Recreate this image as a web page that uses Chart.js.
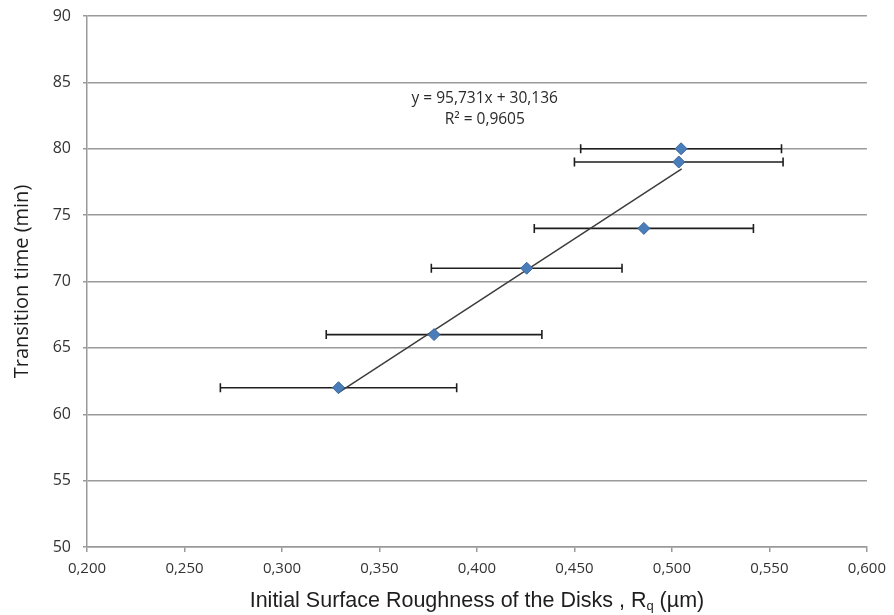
<!DOCTYPE html>
<html>
<head>
<meta charset="utf-8">
<script src="https://cdn.jsdelivr.net/npm/chart.js@4.4.0/dist/chart.umd.min.js"></script>
<style>
  html, body { margin: 0; padding: 0; background: #fff; }
</style>
</head>
<body>
<canvas id="graficScatter" width="894" height="615"></canvas>
<script>
// data
var roughness = [0.329, 0.378, 0.4255, 0.4856, 0.5035, 0.5047];
var transition = [62, 66, 71, 74, 79, 80];
var roughnessErr = [0.0606, 0.0553, 0.0489, 0.0562, 0.0535, 0.0515];
var trendX = [0.329, 0.505];
var trendY = [61.63, 78.48];
var xTickLabels = ['0,200','0,250','0,300','0,350','0,400','0,450','0,500','0,550','0,600'];
var yTickLabels = ['50','55','60','65','70','75','80','85','90'];
var equationLines = ['y = 95,731x + 30,136', 'R\u00B2 = 0,9605'];
var equationAt = [0.404, 83.8];

var points = roughness.map(function(v, i){ return {x: v, y: transition[i]}; });
var trend = trendX.map(function(v, i){ return {x: v, y: trendY[i]}; });

var extras = {
  id: 'extras',
  beforeDatasetsDraw: function(chart){
    var ctx = chart.ctx, sx = chart.scales.x, sy = chart.scales.y;
    ctx.save();
    ctx.strokeStyle = '#1e1e1e';
    ctx.lineWidth = 1.6;
    for (var i = 0; i < roughness.length; i++) {
      var x0 = sx.getPixelForValue(roughness[i] - roughnessErr[i]);
      var x1 = sx.getPixelForValue(roughness[i] + roughnessErr[i]);
      var py = sy.getPixelForValue(transition[i]);
      ctx.beginPath();
      ctx.moveTo(x0, py); ctx.lineTo(x1, py);
      ctx.moveTo(x0, py - 4.5); ctx.lineTo(x0, py + 4.5);
      ctx.moveTo(x1, py - 4.5); ctx.lineTo(x1, py + 4.5);
      ctx.stroke();
    }
    ctx.restore();
  },
  afterDraw: function(chart){
    var ctx = chart.ctx, sx = chart.scales.x, sy = chart.scales.y, a = chart.chartArea;
    ctx.save();
    // trend equation
    ctx.fillStyle = '#2a2a2a';
    ctx.font = '15.5px "Open Sans"';
    ctx.textAlign = 'center';
    ctx.textBaseline = 'middle';
    var ex = sx.getPixelForValue(equationAt[0]), ey = sy.getPixelForValue(equationAt[1]);
    ctx.fillText(equationLines[0], ex, ey);
    ctx.fillText(equationLines[1], ex, ey + 21);

    // y title
    ctx.save();
    ctx.translate(22, (a.top + a.bottom) / 2);
    ctx.rotate(-Math.PI / 2);
    ctx.font = '20px "Open Sans"';
    ctx.fillStyle = '#1e1e1e';
    ctx.fillText('Transition time (min)', 0, 0);
    ctx.restore();

    // x title with subscript q
    var cx = (a.left + a.right) / 2, by = 607;
    var p1 = 'Initial Surface Roughness of the Disks , R', sub = 'q', p2 = ' (\u00B5m)';
    var big = '21.5px "Liberation Sans"', small = '13px "Liberation Sans"';
    ctx.font = big;
    var w1 = ctx.measureText(p1).width, w3 = ctx.measureText(p2).width;
    ctx.font = small;
    var w2 = ctx.measureText(sub).width;
    var sx0 = cx - (w1 + w2 + w3) / 2;
    ctx.textAlign = 'left';
    ctx.textBaseline = 'alphabetic';
    ctx.fillStyle = '#1e1e1e';
    ctx.font = big;
    ctx.fillText(p1, sx0, by);
    ctx.fillText(p2, sx0 + w1 + w2, by);
    ctx.font = small;
    ctx.fillText(sub, sx0 + w1, by + 3);
    ctx.restore();
  }
};

var grafic = document.getElementById('graficScatter');

var chart = new Chart(grafic, {
  type: 'scatter',
  data: {
    datasets: [
      {
        label: 'Transition time',
        data: points,
        pointStyle: 'rectRot',
        pointRadius: 6,
        pointBackgroundColor: '#4a7ebb',
        pointBorderColor: '#3a659a',
        pointBorderWidth: 1
      },
      {
        label: 'trend',
        type: 'line',
        data: trend,
        borderColor: '#3c3c3c',
        borderWidth: 1.5,
        pointRadius: 0,
        fill: false
      }
    ]
  },
  options: {
    responsive: false,
    animation: false,
    devicePixelRatio: 1,
    layout: { padding: { left: 0, right: 26, top: 16, bottom: 0 } },
    plugins: { legend: { display: false }, tooltip: { enabled: false } },
    scales: {
      x: {
        type: 'linear',
        min: 0.2,
        max: 0.6,
        afterFit: function(s){ s.height = 68; },
        ticks: {
          stepSize: 0.05,
          color: '#333',
          font: { family: 'Open Sans', size: 15 },
          padding: 8,
          maxRotation: 0,
          callback: function(v, i){ return xTickLabels[i]; }
        },
        grid: { drawOnChartArea: false, color: '#9a9a9a', lineWidth: 1.5, tickLength: 5 },
        border: { color: '#9a9a9a', width: 1.5 }
      },
      y: {
        min: 50,
        max: 90,
        afterFit: function(s){ s.width = 87; s.paddingTop = 0; s.paddingBottom = 0; },
        ticks: {
          stepSize: 5,
          color: '#333',
          font: { family: 'Open Sans', size: 16 },
          padding: 12,
          callback: function(v, i){ return yTickLabels[i]; }
        },
        grid: { color: '#9a9a9a', lineWidth: 1.5, tickLength: 4 },
        border: { color: '#9a9a9a', width: 1.5 }
      }
    }
  },
  plugins: [extras]
});
</script>
</body>
</html>
